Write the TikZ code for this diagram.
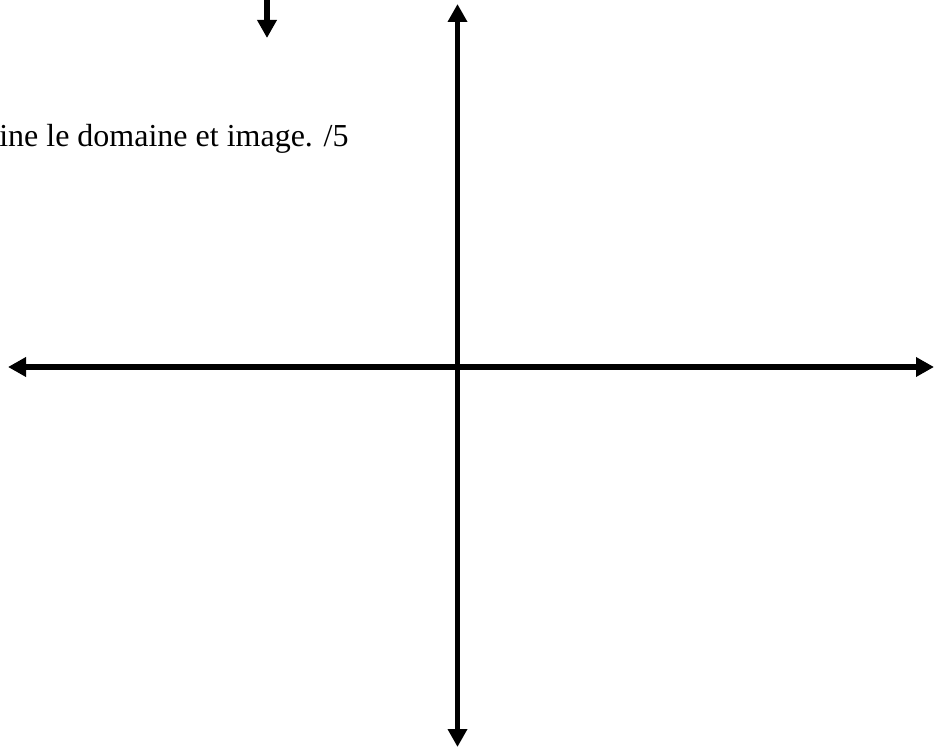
\documentclass[tikz,border=0pt]{standalone}
\usepackage{fontspec}
\setmainfont{Liberation Serif}
\usetikzlibrary{arrows.meta}
\begin{document}
\begin{tikzpicture}[x=0.75pt,y=-0.75pt,
  axis/.style={line width=4pt,-{Triangle[length=13.5pt,width=14pt]}},
  lbl/.style={inner sep=0pt,anchor=base west,font=\fontsize{24}{28}\selectfont}]
\useasboundingbox (0,0) rectangle (945,748);
\clip (0,0) rectangle (945,748);
\coordinate (t0) at (267,-2);
\coordinate (t1) at (267,38);
\coordinate (xl) at (8,367);
\coordinate (xr) at (934,367);
\coordinate (yt) at (457.5,4);
\coordinate (yb) at (457.5,747);
\coordinate (o) at (457.5,367);
\draw[axis] (t0) -- (t1);
\draw[axis] (o) -- (xl);
\draw[axis] (o) -- (xr);
\draw[axis] (o) -- (yt);
\draw[axis] (o) -- (yb);
\node[lbl] (txt) at (-1,147) {ine le domaine et image. /5};
\end{tikzpicture}
\end{document}
